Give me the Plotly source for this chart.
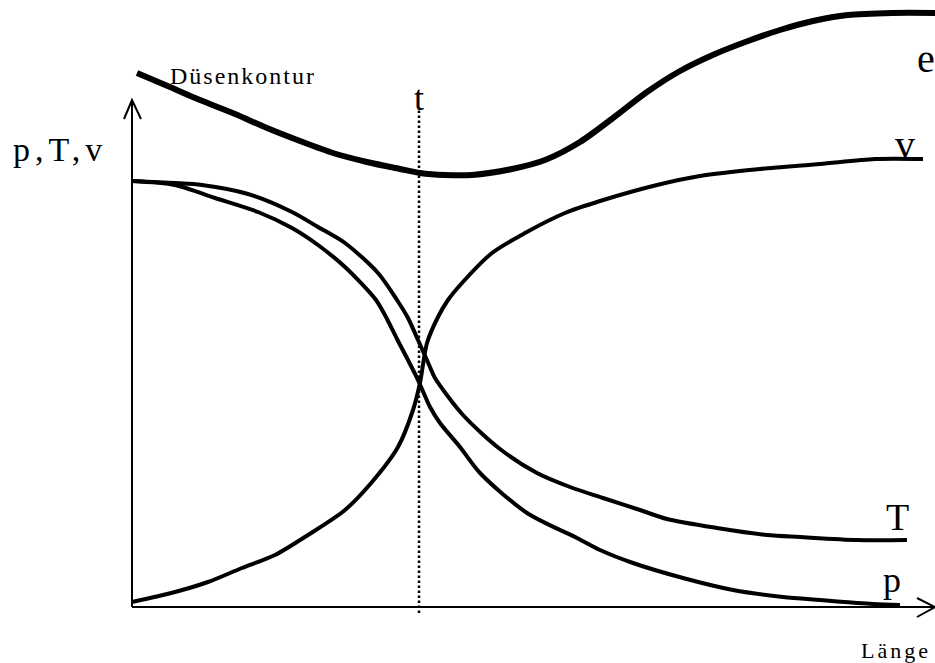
import plotly.graph_objects as go

# Schematic: nozzle contour and flow quantities along nozzle length
# x = Länge (arbitrary units from the y-axis), y = value above the x-axis
kontur_x = [5, 38, 68, 103, 135, 168, 201, 235, 268, 288, 313, 340, 380, 413, 448, 481, 515, 548, 583, 616, 648, 681, 716, 760, 803]
kontur_y = [534, 520, 507, 493, 479, 466, 454, 445, 438, 434, 432, 432, 438, 447, 465, 489, 515, 536, 553, 566, 577, 586, 592, 594, 594]

T_x = [0, 43, 70, 116, 160, 186, 213, 246, 265, 276, 286, 298, 303, 331, 368, 405, 438, 471, 508, 535, 585, 635, 668, 725, 775]
T_y = [426, 424, 422, 413, 395, 380, 364, 334, 307, 289, 267, 240, 229, 192, 158, 134, 120, 109, 97, 88, 79, 72, 70, 67, 67]

p_x = [0, 43, 83, 126, 160, 186, 213, 244, 255, 265, 276, 286, 298, 308, 328, 348, 395, 445, 468, 501, 551, 601, 651, 688, 741, 768]
p_y = [426, 422, 409, 395, 379, 362, 340, 307, 288, 268, 247, 227, 200, 184, 160, 134, 94, 69, 57, 44, 29, 17, 10, 7, 3, 2]

v_x = [0, 43, 76, 110, 143, 176, 213, 240, 266, 281, 288, 295, 306, 316, 330, 360, 393, 433, 468, 525, 568, 628, 688, 743, 791]
v_y = [5, 15, 25, 39, 52, 72, 97, 125, 160, 197, 224, 264, 290, 307, 324, 354, 374, 394, 406, 422, 431, 438, 443, 448, 448]

throat_x = 287
x_end = 803
y_top = 507

FONT = "Liberation Serif"

fig = go.Figure()

for xs, ys, w in [(kontur_x, kontur_y, 6), (T_x, T_y, 4), (p_x, p_y, 4), (v_x, v_y, 4)]:
    fig.add_trace(go.Scatter(x=xs, y=ys, mode="lines",
                             line=dict(color="black", width=w, shape="spline", smoothing=0.8),
                             hoverinfo="skip", showlegend=False))

# axes with arrows
shapes = [
    dict(type="line", x0=0, y0=0, x1=0, y1=y_top, line=dict(color="black", width=2)),
    dict(type="path", path=f"M -8,{y_top-19} L 0,{y_top} L 9,{y_top-19}", line=dict(color="black", width=2)),
    dict(type="line", x0=0, y0=0, x1=x_end, y1=0, line=dict(color="black", width=2)),
    dict(type="path", path=f"M {x_end-18},9 L {x_end},0 L {x_end-18},-10", line=dict(color="black", width=2)),
    dict(type="line", x0=throat_x, y0=-6, x1=throat_x, y1=497,
         line=dict(color="black", width=2.5, dash="2.5px,2.5px")),
]
for s in shapes:
    s.update(xref="x", yref="y", layer="above")
fig.update_layout(shapes=shapes)

def ann(text, x, y, size, xanchor="center", spacing=None):
    if spacing:
        text = f'<span style="letter-spacing:{spacing}px">{text}</span>'
    fig.add_annotation(x=x, y=y, xref="x", yref="y", text=text, showarrow=False,
                       xanchor=xanchor, yanchor="middle",
                       font=dict(family=FONT, size=size, color="black"))

ann("Düsenkontur", 36, 531, 24, "left", 2)
ann("p,T,v", -121, 458, 34, "left", 5)
ann("t", throat_x, 509, 36)
ann("e", 783, 549, 40, "left")
ann("v", 773, 463, 40)
ann("T", 765, 90, 38)
ann("p", 760, 27, 36)
ann("Länge", 801, -43, 22, "right", 3)

fig.update_layout(
    width=935, height=663,
    margin=dict(l=0, r=0, t=0, b=0),
    paper_bgcolor="white", plot_bgcolor="white",
    xaxis=dict(range=[-132, 803], visible=False, fixedrange=True),
    yaxis=dict(range=[-56, 607], visible=False, fixedrange=True),
)

fig.write_html("out.html", config={"displayModeBar": False},
               post_script="document.body.style.margin='0';document.body.style.overflow='hidden';")
